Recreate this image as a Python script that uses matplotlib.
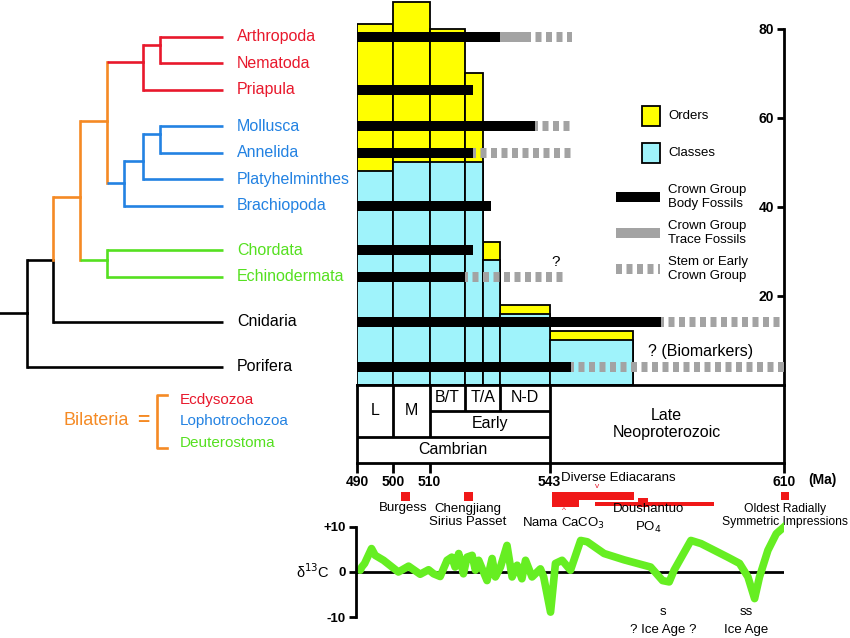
import numpy as np
import matplotlib
matplotlib.use("Agg")
import matplotlib.pyplot as plt
from matplotlib.patches import Rectangle

plt.rcParams['font.family'] = ['Liberation Sans', 'DejaVu Sans']

W, H = 850, 638
nan = np.nan

RED = '#e8182c'
BLUE = '#2382e2'
GREEN = '#55e020'
ORANGE = '#f58a24'
YELLOW = '#ffff00'
CYAN = '#9ff3fb'
GRAY = '#a3a3a3'
LIME = '#66ee22'

# ---- taxa / fossil ranges (Ma, oldest record) ----
taxa = ['Arthropoda', 'Nematoda', 'Priapula', 'Mollusca', 'Annelida', 'Platyhelminthes',
        'Brachiopoda', 'Chordata', 'Echinodermata', 'Cnidaria', 'Porifera']
taxon_colors = [RED] * 3 + [BLUE] * 4 + [GREEN] * 2 + ['black'] * 2
row_pos = [0, 1, 2, 3.36, 4.36, 5.36, 6.36, 8.02, 9.02, 10.71, 12.41]
body_end = [529.5, nan, 522.0, 539.1, 522.0, nan, 527.0, 522.0, 519.8, 574.8, 549.0]
trace_end = [537.2, nan, nan, nan, nan, nan, nan, nan, nan, nan, nan]
stem_end = [549.3, nan, nan, 549.3, 549.3, nan, nan, nan, 547.3, 610.0, 610.0]

# ---- diversity (orders / classes) ----
bin_edges = [490, 500, 510, 519.7, 524.6, 529.5, 543, 566.8]
n_orders = [81, 86, 80, 70, 32, 18, 12]
n_classes = [48, 50, 50, 50, 28, 16, 10]

# ---- cladogram: internal nodes (depth, row) ----
nodes = {'root': (26.7, 10.4), 'Eumetazoa': (53.3, 8.39), 'Bilateria': (80, 6.02),
         'Protostomia': (106.7, 3.17), 'Deuterostomia': (106.7, 8.39),
         'Ecdysozoa': (143.3, 0.94), 'AN': (160, 0.31),
         'Lophotrochozoa': (124, 5.51), 'MAP': (142.7, 4.67), 'MA': (160, 3.67)}
tip_depth = 222.7
edges = [('root', 'Eumetazoa', 'k', 'k'), ('root', 'Porifera', 'k', 'k'),
         ('Eumetazoa', 'Cnidaria', 'k', 'k'), ('Eumetazoa', 'Bilateria', ORANGE, ORANGE),
         ('Bilateria', 'Protostomia', ORANGE, ORANGE), ('Bilateria', 'Deuterostomia', ORANGE, GREEN),
         ('Protostomia', 'Ecdysozoa', ORANGE, RED), ('Protostomia', 'Lophotrochozoa', ORANGE, BLUE),
         ('Ecdysozoa', 'AN', RED, RED), ('Ecdysozoa', 'Priapula', RED, RED),
         ('AN', 'Arthropoda', RED, RED), ('AN', 'Nematoda', RED, RED),
         ('Lophotrochozoa', 'MAP', BLUE, BLUE), ('Lophotrochozoa', 'Brachiopoda', BLUE, BLUE),
         ('MAP', 'MA', BLUE, BLUE), ('MAP', 'Platyhelminthes', BLUE, BLUE),
         ('MA', 'Mollusca', BLUE, BLUE), ('MA', 'Annelida', BLUE, BLUE),
         ('Deuterostomia', 'Chordata', GREEN, GREEN), ('Deuterostomia', 'Echinodermata', GREEN, GREEN)]
clade_key = ['Ecdysozoa', 'Lophotrochozoa', 'Deuterostoma']
clade_key_colors = [RED, BLUE, GREEN]

# ---- time scale ----
stage_names = ['L', 'M', 'B/T', 'T/A', 'N-D']
stage_bounds = [490, 500, 510, 519.7, 529.5, 543]
age_ticks = [490, 500, 510, 543, 610]

# ---- events ----
event_start = [502.1, 519.5, 543.6, 543.6, 555.9, 568.2, 609.2]
event_end = [504.6, 522.0, 567.1, 551.3, 590.0, 571.1, 611.5]
event_row = [26, 26, 26, 29.5, 34, 32.5, 26]
event_thick = [9, 9, 8, 15, 4, 9, 8]

# ---- carbon isotope curve ----
curve_ma = [490.9, 491.3, 492.1, 494.0, 495.0, 497.3, 501.4, 504.2, 507.4, 509.7, 511.1, 512.9,
            514.8, 516.1, 517.0, 518.0, 519.3, 520.3, 521.7, 522.6, 523.5, 525.8, 527.2, 528.1,
            529.5, 531.3, 532.7, 534.1, 535.4, 536.4, 538.2, 540.5, 541.4, 543.3, 544.7, 546.6,
            549.0, 551.9, 553.8, 558.6, 564.3, 571.9, 575.3, 577.2, 578.6, 583.4, 586.3, 593.9,
            597.3, 599.7, 601.6, 603.0, 605.4, 607.8, 610.6]
curve_d13c = [0.4, 1.1, 1.9, 5.2, 3.7, 2.6, 0.0, 1.3, -0.5, 0.5, -0.4, -1.0,
              2.6, 3.3, 1.1, 4.1, -0.4, 3.3, 3.7, 0.4, 2.6, -1.9, 3.0, -1.1,
              1.1, 5.9, -1.1, 1.5, -1.5, 2.6, -1.1, 0.7, -1.1, -8.9, 1.9, 2.6,
              0.4, 7.0, 6.7, 4.1, 2.7, 1.1, -1.9, -2.2, 0.4, 7.0, 6.3, 3.3,
              1.9, -1.1, -5.9, -1.1, 4.8, 8.5, 10.4]


def fwd(m):
    m = np.asarray(m, float)
    return np.where(m < 543, (m - 490) * (192.5 / 53), 192.5 + (m - 543) * (234.5 / 67))


def inv(p):
    p = np.asarray(p, float)
    return np.where(p < 192.5, 490 + p * (53 / 192.5), 543 + (p - 192.5) * (67 / 234.5))


fig = plt.figure(figsize=(W / 100, H / 100), dpi=100)


def px_axes(x0, y0, x1, y1, **kw):
    return fig.add_axes([x0 / W, 1 - y1 / H, (x1 - x0) / W, (y1 - y0) / H], **kw)


ROW0, STEP = 36.7, 26.6


def row_lim(y0, y1):
    return ((y1 - ROW0) / STEP, (y0 - ROW0) / STEP)


# ---------------- diversity bars ----------------
ax_div = px_axes(357, 0, 784, 384.8)
ax_div.set_xscale('function', functions=(fwd, inv))
ax_div.set_xlim(490, 610)
ax_div.set_ylim(0, 86.4)
widths = np.diff(bin_edges)
ax_div.bar(bin_edges[:-1], n_orders, width=widths, align='edge', color=YELLOW, edgecolor='k', lw=1.3)
ax_div.bar(bin_edges[:-1], n_classes, width=widths, align='edge', color=CYAN, edgecolor='k', lw=1.3)
for s in ['top', 'left', 'bottom']:
    ax_div.spines[s].set_visible(False)
ax_div.spines['right'].set_linewidth(2)
ax_div.spines['right'].set_bounds(0, 80)
ax_div.tick_params(axis='x', bottom=False, labelbottom=False)
ax_div.yaxis.tick_right()
ax_div.set_yticks([20, 40, 60, 80])
ax_div.tick_params(axis='y', direction='in', length=5, width=2, pad=-7, labelsize=10)
for t in ax_div.yaxis.get_major_ticks():
    t.label2.set_ha('right')
    t.label2.set_fontweight('bold')

# ---------------- fossil ranges + legend ----------------
ax_rng = px_axes(357, 0, 784, 384.8, sharex=ax_div)
ax_rng.set_ylim(*row_lim(0, 384.8))
ax_rng.patch.set_visible(False)
ax_rng.axis('off')
BAR_LW = 7.2
for i, y in enumerate(row_pos):
    start = 490
    if not np.isnan(body_end[i]):
        ax_rng.plot([start, body_end[i]], [y, y], color='k', lw=BAR_LW, solid_capstyle='butt')
        start = body_end[i]
    if not np.isnan(trace_end[i]):
        ax_rng.plot([start, trace_end[i]], [y, y], color=GRAY, lw=BAR_LW, solid_capstyle='butt')
        start = trace_end[i]
    if not np.isnan(stem_end[i]):
        ax_rng.plot([start, stem_end[i]], [y, y], color=GRAY, lw=BAR_LW,
                    linestyle=(0.3, (0.6, 0.45)), dash_capstyle='butt')
ax_rng.text(544.7, 8.47, '?', fontsize=11, ha='center', va='center')
ax_rng.text(571.0, 11.85, '? (Biomarkers)', fontsize=11.5, ha='left', va='center')

leg_rows = [2.98, 4.37, 6.03, 7.38, 8.73]
leg_labels = ['Orders', 'Classes', 'Crown Group\nBody Fossils', 'Crown Group\nTrace Fossils',
              'Stem or Early\nCrown Group']
for c, r in zip([YELLOW, CYAN], leg_rows[:2]):
    ax_rng.add_patch(Rectangle((569.3, r - 0.36), 5.4, 0.72, facecolor=c, edgecolor='k', lw=1.3))
ax_rng.plot([561.9, 574.7], [leg_rows[2]] * 2, color='k', lw=BAR_LW, solid_capstyle='butt')
ax_rng.plot([561.9, 574.7], [leg_rows[3]] * 2, color=GRAY, lw=BAR_LW, solid_capstyle='butt')
ax_rng.plot([561.9, 574.7], [leg_rows[4]] * 2, color=GRAY, lw=BAR_LW,
            linestyle=(0, (0.6, 0.45)), dash_capstyle='butt')
for lab, r in zip(leg_labels, leg_rows):
    ax_rng.text(577.0, r, lab, fontsize=9.5, ha='left', va='center', linespacing=1.15)

# ---------------- time scale ----------------
ax_ts = px_axes(357, 384.8, 784, 463, sharex=ax_div)
ax_ts.set_ylim(3, 0)
for s in ax_ts.spines.values():
    s.set_linewidth(2)
ax_ts.set_yticks([])
ax_ts.set_xticks(age_ticks)
ax_ts.tick_params(axis='x', direction='out', length=7, width=2, pad=1.5, labelsize=10)
for t in ax_ts.get_xticklabels():
    t.set_fontweight('bold')
ax_ts.vlines(stage_bounds[1:3], 0, 2, color='k', lw=2)
ax_ts.vlines(stage_bounds[3:5], 0, 1, color='k', lw=2)
ax_ts.vlines(543, 0, 3, color='k', lw=2)
ax_ts.hlines(1, 510, 543, color='k', lw=2)
ax_ts.hlines(2, 490, 543, color='k', lw=2)
for i, name in enumerate(stage_names):
    mid = inv((fwd(stage_bounds[i]) + fwd(stage_bounds[i + 1])) / 2)
    yy = 1.0 if i < 2 else 0.5
    ax_ts.text(mid, yy, name, fontsize=11.5, ha='center', va='center')
ax_ts.text(inv((fwd(510) + fwd(543)) / 2), 1.5, 'Early', fontsize=11.5, ha='center', va='center')
ax_ts.text(inv((fwd(490) + fwd(543)) / 2), 2.5, 'Cambrian', fontsize=11.5, ha='center', va='center')
ax_ts.text(inv((fwd(543) + fwd(610)) / 2), 1.5, 'Late\nNeoproterozoic', fontsize=11.5,
           ha='center', va='center', linespacing=1.15)

# ---------------- events ----------------
ax_ev = px_axes(357, 470, 784, 540, sharex=ax_div)
ax_ev.set_ylim(70, 0)
ax_ev.patch.set_visible(False)
ax_ev.axis('off')
ax_ev.barh(event_row, np.subtract(event_end, event_start), left=event_start,
           height=event_thick, color='#f01818', clip_on=False)
ax_ev.text(620.9, 10, '(Ma)', fontsize=10, fontweight='bold', ha='center', va='center', clip_on=False)
ax_ev.text(562.7, 8, 'Diverse Ediacarans', fontsize=9.5, ha='center', va='center')
ax_ev.text(556.7, 17, 'v', fontsize=6, color=RED, ha='center', va='center')
ax_ev.text(547.0, 41, '^', fontsize=6, color=RED, ha='center', va='center')
ax_ev.text(502.7, 38, 'Burgess', fontsize=9.5, ha='center', va='center')
ax_ev.text(520.6, 45.5, 'Chengjiang\nSirius Passet', fontsize=9.5, ha='center', va='center',
           linespacing=1.1)
ax_ev.text(547.0, 53, 'Nama CaCO$_3$', fontsize=9.5, ha='center', va='center')
ax_ev.text(571.3, 49, 'Doushantuo\nPO$_4$', fontsize=9.5, ha='center', va='center', linespacing=1.4)
ax_ev.text(610.4, 45.5, 'Oldest Radially\nSymmetric Impressions', fontsize=8.7, ha='center',
           va='center', linespacing=1.15, clip_on=False)

# ---------------- carbon isotopes ----------------
ax_c = px_axes(357, 517, 784, 627, sharex=ax_div)
ax_c.set_ylim(-12.2, 12.2)
ax_c.patch.set_visible(False)
for s in ['top', 'right', 'bottom']:
    ax_c.spines[s].set_visible(False)
ax_c.spines['left'].set_linewidth(2)
ax_c.spines['left'].set_bounds(-10, 10)
ax_c.spines['left'].set_position(('outward', 1))
ax_c.set_yticks([-10, 0, 10])
ax_c.set_yticklabels(['-10', '0', '+10'])
ax_c.tick_params(axis='y', direction='out', length=5, width=2, pad=2, labelsize=9.5)
ax_c.tick_params(axis='x', bottom=False, labelbottom=False)
for t in ax_c.get_yticklabels():
    t.set_fontweight('bold')
ax_c.axhline(0, color='k', lw=2)
ax_c.plot(curve_ma, curve_d13c, color=LIME, lw=5.5, solid_joinstyle='round', solid_capstyle='round')
ax_c.set_ylabel('δ$^{13}$C', rotation=0, fontsize=10.5, ha='center', va='center')
ax_c.yaxis.set_label_coords(-0.103, 0.5)
ax_c.text(575.5, -8.9, 's', fontsize=9.5, ha='center', va='center')
ax_c.text(575.5, -12.9, '? Ice Age ?', fontsize=9.5, ha='center', va='center', clip_on=False)
ax_c.text(599.3, -8.9, 'ss', fontsize=9.5, ha='center', va='center')
ax_c.text(599.3, -12.9, 'Ice Age', fontsize=9.5, ha='center', va='center', clip_on=False)

# ---------------- cladogram ----------------
ax_t = px_axes(0, 0, 357, 470)
ax_t.set_xlim(0, 357)
ax_t.set_ylim(*row_lim(0, 470))
ax_t.axis('off')
pos = dict(nodes)
for name, r in zip(taxa, row_pos):
    pos[name] = (tip_depth, r)
TREE_LW = 1.9
root_x, root_y = pos['root']
ax_t.plot([0, root_x], [root_y, root_y], color='k', lw=TREE_LW, solid_capstyle='projecting')
for parent, child, vcol, hcol in edges:
    px_, py_ = pos[parent]
    cx_, cy_ = pos[child]
    ax_t.plot([px_, px_], [py_, cy_], color=vcol, lw=TREE_LW, solid_capstyle='projecting')
    ax_t.plot([px_, cx_], [cy_, cy_], color=hcol, lw=TREE_LW, solid_capstyle='butt')
for name, r, c in zip(taxa, row_pos, taxon_colors):
    ax_t.text(237, r, name, color=c, fontsize=11.5, ha='left', va='center')

# Bilateria key
ax_t.text(96, 14.41, 'Bilateria', color=ORANGE, fontsize=13, ha='center', va='center')
ax_t.text(143, 14.41, '=', color=ORANGE, fontsize=15, fontweight='bold', ha='center', va='center')
ax_t.plot([167, 157, 157, 167], [13.47, 13.47, 15.46, 15.46], color=ORANGE, lw=TREE_LW)
for k, (lab, c) in enumerate(zip(clade_key, clade_key_colors)):
    ax_t.text(180, 13.66 + 0.8 * k, lab, color=c, fontsize=11, ha='left', va='center')

fig.savefig('out.png', dpi=100, facecolor='white')
